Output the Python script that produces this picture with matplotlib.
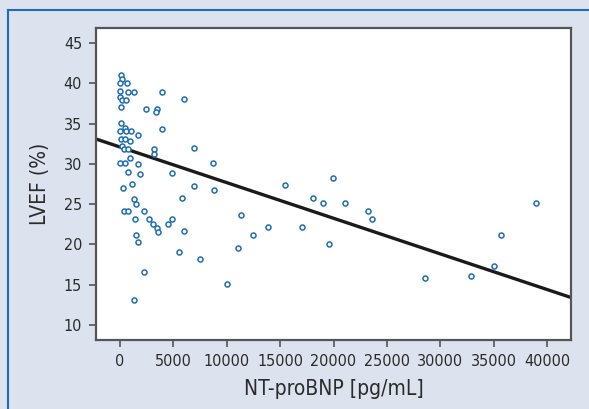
import numpy as np
import matplotlib
matplotlib.use("Agg")
import matplotlib.pyplot as plt
from matplotlib.lines import Line2D
from matplotlib import font_manager

# narrow sans if available, otherwise condensed DejaVu
names = set(f.name for f in font_manager.fontManager.ttflist)
if 'Liberation Sans Narrow' in names:
    plt.rcParams['font.family'] = ['Liberation Sans Narrow', 'DejaVu Sans']
else:
    plt.rcParams['font.family'] = ['DejaVu Sans']
    plt.rcParams['font.stretch'] = 'condensed'

# NT-proBNP [pg/mL] and LVEF [%]
ntprobnp = [90, 220, 0, 650, 0, 720, 1280, 3930, 5960, 0, 220, 560, 50,
            2460, 3430, 3370, 50, 30, 470, 560, 1030, 1710, 3960, 60, 470,
            960, 220, 350, 750, 3160, 3160, 6930, 0, 470, 960, 1710,
            780, 1840, 4900, 6960, 1090, 250, 5810, 1340, 1470, 350, 780,
            2220, 1400, 2690, 3120, 3490, 3560, 4470, 4840, 5960, 1530,
            1690, 5530, 7470, 2220, 1310, 8710, 8780, 11310, 12430, 13860,
            11050, 15430, 19980, 18080, 18990, 21080, 23230, 23610, 17020,
            19550, 10000, 28600, 32880, 35040, 35690, 38970]
lvef = [41.0, 40.5, 40.0, 40.1, 39.1, 39.0, 39.0, 39.0, 38.1, 38.3, 38.0,
        38.0, 37.1, 36.8, 36.8, 36.5, 35.1, 34.1, 34.5, 34.1, 34.1, 33.6,
        34.4, 33.1, 33.1, 32.9, 32.2, 31.8, 31.9, 31.85, 31.2, 32.0, 30.1,
        30.1, 30.7, 30.0, 29.0, 28.7, 28.9, 27.3, 27.5, 27.0, 25.8, 25.6,
        25.0, 24.2, 24.2, 24.2, 23.1, 23.1, 22.5, 22.0, 21.5, 22.5, 23.2,
        21.7, 21.1, 20.3, 19.1, 18.2, 16.5, 13.1, 30.1, 26.8, 23.7, 21.2,
        22.1, 19.6, 27.4, 28.3, 25.7, 25.1, 25.1, 24.2, 23.1, 22.2, 20.1,
        15.1, 15.8, 16.1, 17.3, 21.1, 25.1]

# regression line
fit_intercept = 32.1
fit_slope = -0.000443

xticks = [0, 5000, 10000, 15000, 20000, 25000, 30000, 35000, 40000]
yticks = [10, 15, 20, 25, 30, 35, 40, 45]

bg = '#dce2ee'
text_col = '#2b2b2b'

fig = plt.figure(figsize=(5.89, 4.09), dpi=100, facecolor=bg)
ax = fig.add_axes([0.163, 0.1687, 0.8065, 0.7628])
ax.set_facecolor('white')

ax.scatter(ntprobnp, lvef, s=13, facecolors='white', edgecolors='#1f6db3',
           linewidths=1.1, zorder=3)

xlim = (-2250, 42250)
ylim = (8.1, 46.9)
xs = np.array(xlim)
ax.plot(xs, fit_intercept + fit_slope * xs, color='#1a1a1a', lw=2.4, zorder=2)

ax.set_xlim(xlim)
ax.set_ylim(ylim)
ax.set_xticks(xticks)
ax.set_yticks(yticks)
ax.tick_params(direction='out', length=5, width=1.2, color='#555555',
               labelcolor=text_col, labelsize=11.5, pad=5)
for sp in ax.spines.values():
    sp.set_color('#555555')
    sp.set_linewidth(1.6)

ax.set_xlabel('NT-proBNP [pg/mL]', fontsize=15, color=text_col, labelpad=7)
ax.set_ylabel('LVEF (%)', fontsize=15, color=text_col, labelpad=10)

# blue frame lines on top and left
fig.add_artist(Line2D([8 / 589, 1], [1 - 10 / 409, 1 - 10 / 409],
                      transform=fig.transFigure, color='#1f6db3', lw=1.5))
fig.add_artist(Line2D([8 / 589, 8 / 589], [0, 1 - 10 / 409],
                      transform=fig.transFigure, color='#1f6db3', lw=1.5))

fig.savefig('out.png', dpi=100, facecolor=bg)
